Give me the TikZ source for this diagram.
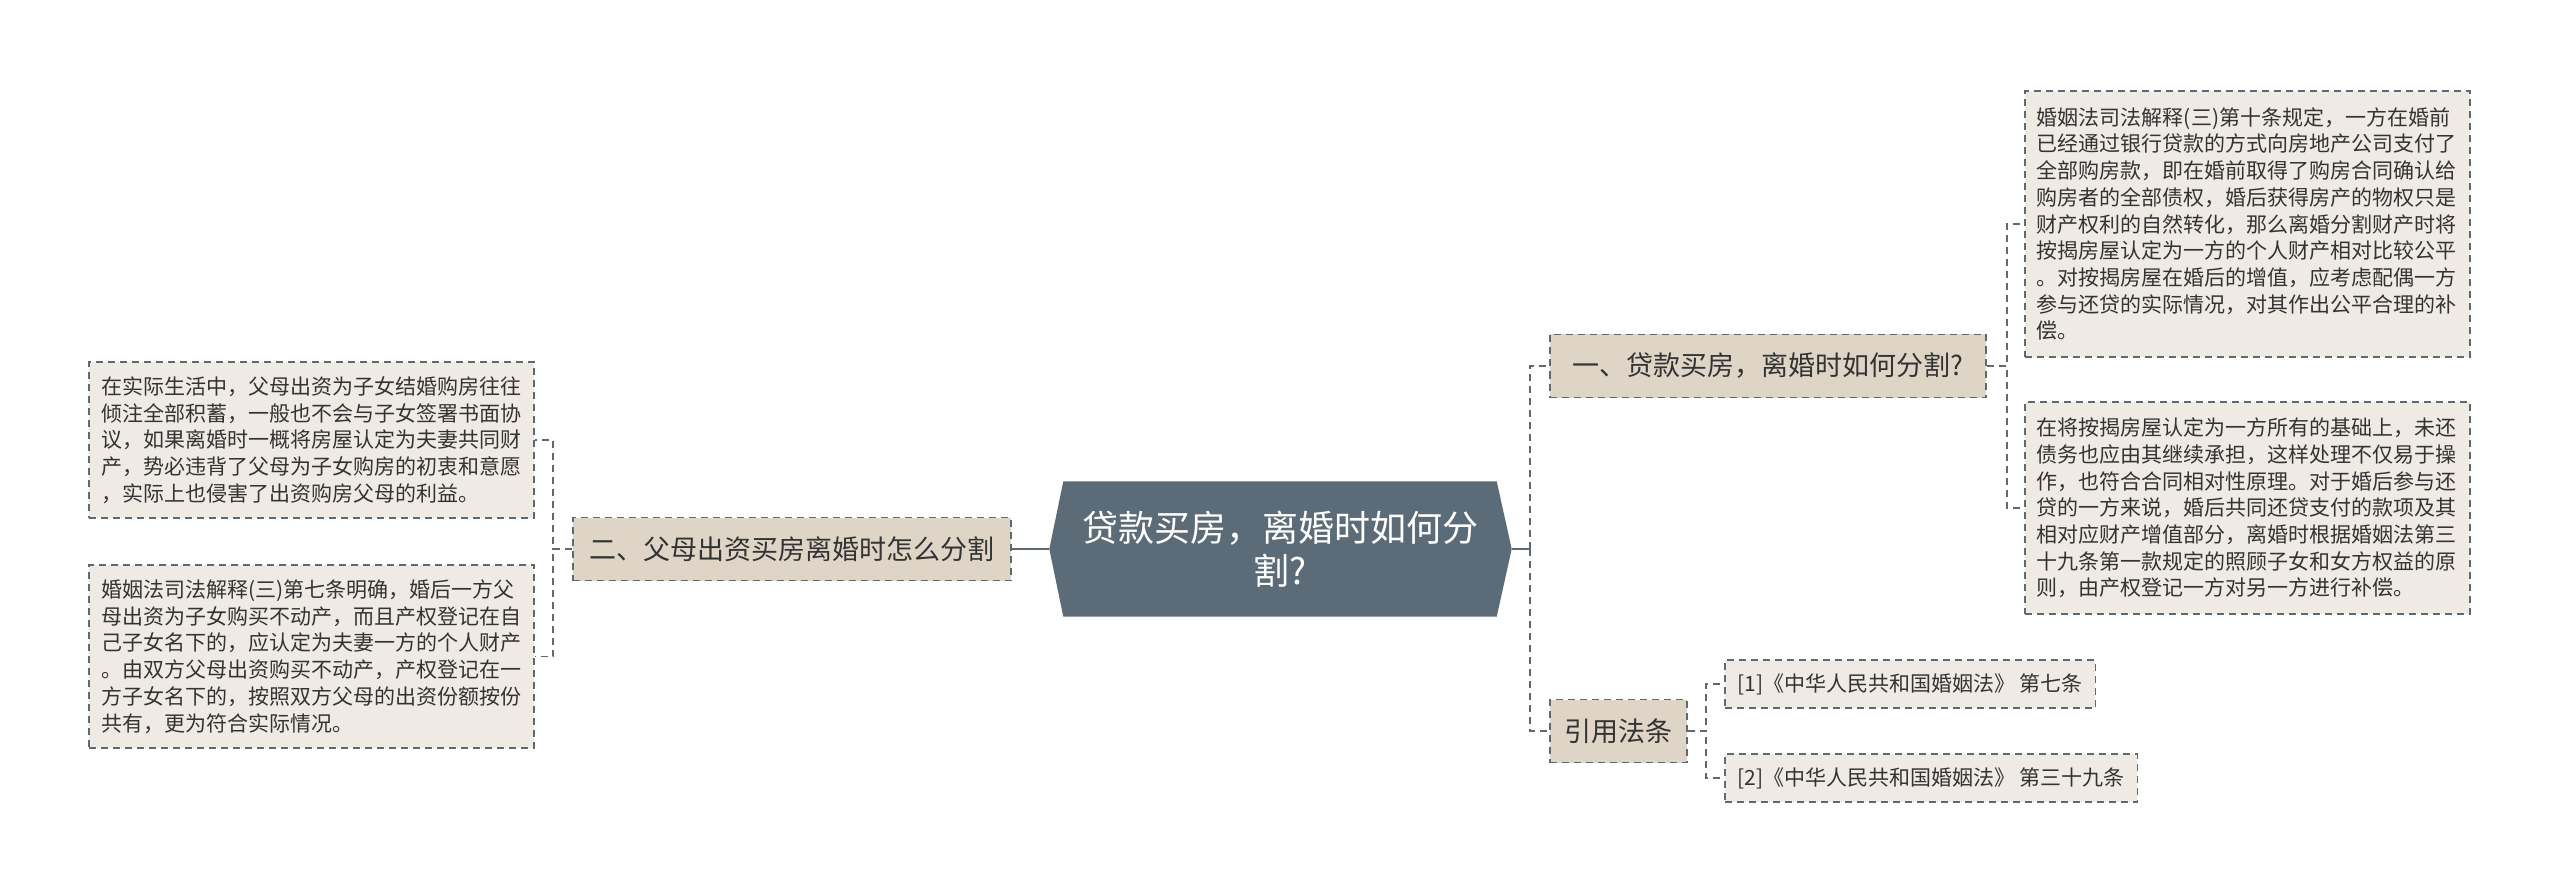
\documentclass[tikz,border=0pt]{standalone}
\usepackage{fontspec}
\setmainfont{Noto Sans CJK SC}
\usetikzlibrary{backgrounds}
\definecolor{rootfill}{HTML}{5B6C78}
\definecolor{branchfill}{HTML}{DED5C7}
\definecolor{leaffill}{HTML}{EFEBE4}
\definecolor{linegray}{HTML}{5E6A72}
\definecolor{textdark}{HTML}{333333}

\begin{document}
\begin{tikzpicture}[
    x=1pt, y=-1pt,
    every node/.style={text=textdark, inner sep=0pt},
    rootnode/.style={text=white, align=center, minimum width=433pt, minimum height=135pt,
      font={\fontsize{36pt}{43pt}\selectfont}},
    branchbox/.style={draw=linegray, fill=branchfill, line width=1.8pt,
      dash pattern=on 7pt off 5pt, minimum height=63pt, anchor=west,
      font={\fontsize{27pt}{32pt}\selectfont}},
    leafbox/.style={draw=linegray, fill=leaffill, line width=1.8pt,
      dash pattern=on 7pt off 5pt, text width=421pt, align=left, inner xsep=12pt,
      font={\fontsize{21pt}{26.7pt}\selectfont}},
    refbox/.style={draw=linegray, fill=leaffill, line width=1.8pt,
      dash pattern=on 7pt off 5pt, minimum height=48pt, inner xsep=12.5pt, anchor=west,
      font={\fontsize{21pt}{26pt}\selectfont}},
    rootlink/.style={draw=linegray, line width=2.4pt},
    dashlink/.style={draw=linegray, line width=1.8pt, dash pattern=on 7pt off 5pt},
  ]
  \path[use as bounding box] (0,0) rectangle (2560,893);

  \node[rootnode] (root) at (1280,549) {贷款买房，离婚时如何分\\割?};

  \node[branchbox, minimum width=436pt] (b1) at (1549,366) {一、贷款买房，离婚时如何分割?};
  \node[branchbox, minimum width=137pt] (b3) at (1549,731) {引用法条};
  \node[branchbox, minimum width=438pt, anchor=east] (b2) at (1012,549) {二、父母出资买房离婚时怎么分割};

  \node[leafbox, minimum height=266pt, anchor=west] (r1) at (2024,224) {婚姻法司法解释(三)第十条规定，一方在婚前\\
    已经通过银行贷款的方式向房地产公司支付了\\
    全部购房款，即在婚前取得了购房合同确认给\\
    购房者的全部债权，婚后获得房产的物权只是\\
    财产权利的自然转化，那么离婚分割财产时将\\
    按揭房屋认定为一方的个人财产相对比较公平\\
    。对按揭房屋在婚后的增值，应考虑配偶一方\\
    参与还贷的实际情况，对其作出公平合理的补\\
    偿。};
  \node[leafbox, minimum height=212pt, anchor=west] (r2) at (2024,508) {在将按揭房屋认定为一方所有的基础上，未还\\
    债务也应由其继续承担，这样处理不仅易于操\\
    作，也符合合同相对性原理。对于婚后参与还\\
    贷的一方来说，婚后共同还贷支付的款项及其\\
    相对应财产增值部分，离婚时根据婚姻法第三\\
    十九条第一款规定的照顾子女和女方权益的原\\
    则，由产权登记一方对另一方进行补偿。};

  \node[refbox] (ref1) at (1724,684) {[1]《中华人民共和国婚姻法》 第七条};
  \node[refbox] (ref2) at (1724,778) {[2]《中华人民共和国婚姻法》 第三十九条};

  \node[leafbox, minimum height=156pt, anchor=east] (l1) at (535,440) {在实际生活中，父母出资为子女结婚购房往往\\
    倾注全部积蓄，一般也不会与子女签署书面协\\
    议，如果离婚时一概将房屋认定为夫妻共同财\\
    产，势必违背了父母为子女购房的初衷和意愿\\
    ，实际上也侵害了出资购房父母的利益。};
  \node[leafbox, minimum height=183pt, anchor=east] (l2) at (535,656.5) {婚姻法司法解释(三)第七条明确，婚后一方父\\
    母出资为子女购买不动产，而且产权登记在自\\
    己子女名下的，应认定为夫妻一方的个人财产\\
    。由双方父母出资购买不动产，产权登记在一\\
    方子女名下的，按照双方父母的出资份额按份\\
    共有，更为符合实际情况。};

  \begin{scope}[on background layer]
    \fill[white] (0,0) rectangle (2560,893);
    \fill[rootfill] (root.north west) -- (root.north east) -- ([xshift=15pt]root.east)
      -- (root.south east) -- (root.south west) -- ([xshift=-14pt]root.west) -- cycle;
  \end{scope}

  \draw[rootlink] ([xshift=-14pt]root.west) -- (b2.east);
  \draw[rootlink] ([xshift=15pt]root.east) -- ++(18,0) coordinate (jR);
  \draw[dashlink] (jR) |- (b1.west);
  \draw[dashlink] (jR) |- (b3.west);

  \draw[dashlink] (b1.east) -- ++(20,0) |- (r1.west);
  \draw[dashlink] (b1.east) -- ++(20,0) |- (r2.west);
  \draw[dashlink] (b3.east) -- ++(18,0) |- (ref1.west);
  \draw[dashlink] (b3.east) -- ++(18,0) |- (ref2.west);
  \draw[dashlink] (b2.west) -- ++(-19,0) |- (l1.east);
  \draw[dashlink] (b2.west) -- ++(-19,0) |- (l2.east);
\end{tikzpicture}
\end{document}
